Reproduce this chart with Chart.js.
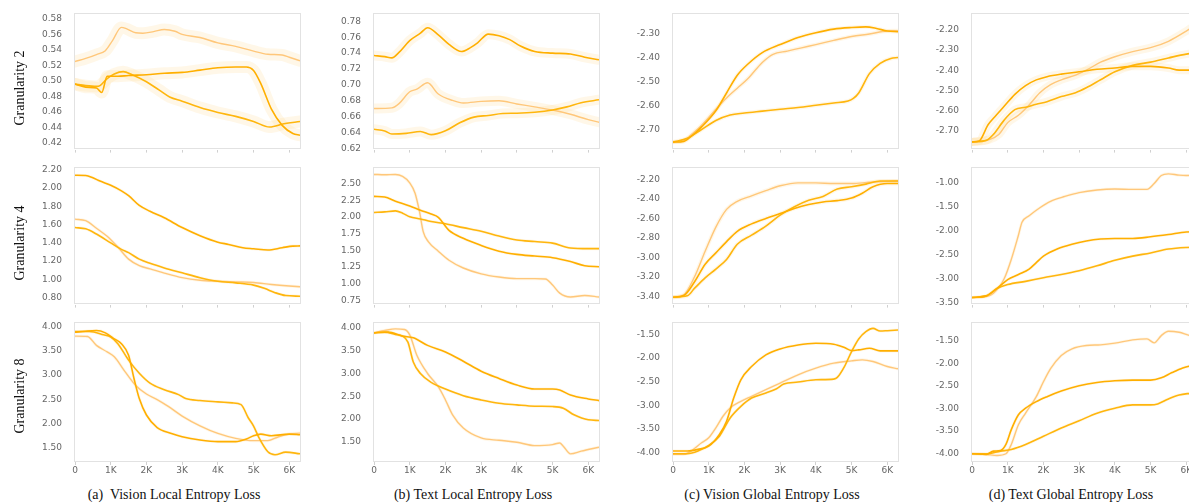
<!DOCTYPE html>
<html><head><meta charset="utf-8">
<script src="https://cdn.jsdelivr.net/npm/chart.js@4/dist/chart.umd.min.js"></script>
<style>
html,body{margin:0;padding:0;background:#fff;overflow:hidden;width:1189px;height:504px;}
.box{position:absolute;}
.cap{position:absolute;font-family:"Liberation Serif",serif;font-size:14px;line-height:14px;color:#111;white-space:pre;transform:translateX(-50%);}
.row{position:absolute;font-family:"Liberation Serif",serif;font-size:14px;line-height:14px;color:#111;white-space:pre;transform:translate(-50%,-50%) rotate(-90deg);}
</style></head><body>
<script>
// ---- data (x = training step, y = loss) ----
const xTickValues = [0,1000,2000,3000,4000,5000,6000];
const xTickLabels = ['0','1K','2K','3K','4K','5K','6K'];
const captions = ['(a)  Vision Local Entropy Loss','(b) Text Local Entropy Loss','(c) Vision Global Entropy Loss','(d) Text Global Entropy Loss'];
const rowLabels = ['Granularity 2','Granularity 4','Granularity 8'];

// Granularity 2
const a2L=[[0,0.525],[300,0.529],[600,0.534],[850,0.539],[1050,0.552],[1300,0.569],[1450,0.567],[1700,0.562],[1900,0.5615],[2200,0.5635],[2500,0.5663],[2800,0.564],[3000,0.560],[3500,0.556],[4000,0.549],[4500,0.5445],[5000,0.5384],[5400,0.5343],[5800,0.5335],[6000,0.5305],[6300,0.526]];
const a2A=[[0,0.496],[300,0.492],[600,0.491],[750,0.4852],[900,0.506],[1200,0.506],[1500,0.507],[2000,0.508],[2500,0.510],[3000,0.511],[3500,0.514],[4000,0.517],[4500,0.518],[4800,0.518],[5000,0.5135],[5200,0.4968],[5500,0.4636],[5800,0.4428],[6100,0.4324],[6300,0.430]];
const a2B=[[0,0.496],[300,0.494],[600,0.493],[700,0.494],[900,0.503],[1100,0.509],[1350,0.512],[1600,0.508],[2000,0.499],[2350,0.4885],[2650,0.4794],[3000,0.474],[3500,0.4657],[4000,0.4594],[4500,0.4544],[5000,0.4478],[5450,0.4407],[5850,0.4449],[6300,0.4478]];
const b2L=[[0,0.6703],[500,0.6711],[700,0.6764],[1000,0.6913],[1200,0.6945],[1500,0.7026],[1800,0.6885],[2200,0.6804],[2500,0.6772],[3000,0.6792],[3500,0.680],[4000,0.676],[4500,0.6723],[5000,0.6683],[5500,0.663],[6000,0.6562],[6300,0.653]];
const b2A=[[0,0.7369],[300,0.7356],[500,0.734],[700,0.7409],[1000,0.7558],[1300,0.7651],[1500,0.7719],[1800,0.763],[2100,0.751],[2450,0.742],[2700,0.7469],[2900,0.753],[3200,0.7639],[3500,0.7619],[3800,0.757],[4100,0.749],[4500,0.7421],[5000,0.740],[5500,0.7389],[5900,0.7348],[6300,0.7316]];
const b2B=[[0,0.6441],[300,0.642],[500,0.6381],[900,0.6389],[1300,0.6413],[1600,0.6373],[2000,0.6421],[2400,0.6522],[2800,0.6594],[3200,0.6615],[3600,0.6639],[4000,0.6643],[4500,0.6655],[5000,0.6683],[5400,0.6723],[5800,0.6776],[6300,0.6812]];
const c2L=[[0,-2.7527],[300,-2.748],[500,-2.723],[800,-2.682],[1200,-2.615],[1500,-2.5676],[1800,-2.527],[2100,-2.4865],[2500,-2.419],[2800,-2.385],[3200,-2.3716],[3600,-2.358],[4000,-2.3446],[4500,-2.327],[5000,-2.3108],[5500,-2.30],[6000,-2.2878],[6300,-2.2865]];
const c2A=[[0,-2.7527],[300,-2.75],[500,-2.73],[800,-2.689],[1200,-2.6216],[1500,-2.547],[1800,-2.473],[2100,-2.4257],[2500,-2.378],[3000,-2.3446],[3500,-2.3149],[4000,-2.2946],[4500,-2.2797],[5000,-2.273],[5400,-2.2703],[5700,-2.277],[6000,-2.2878],[6300,-2.2905]];
const c2B=[[0,-2.7527],[400,-2.7365],[800,-2.70],[1200,-2.662],[1600,-2.639],[2000,-2.631],[2500,-2.623],[3000,-2.615],[3500,-2.608],[4000,-2.5986],[4500,-2.589],[4900,-2.581],[5050,-2.570],[5200,-2.547],[5500,-2.466],[5800,-2.423],[6100,-2.4027],[6300,-2.3986]];
const d2L=[[0,-2.7577],[500,-2.745],[750,-2.721],[1000,-2.6615],[1300,-2.6247],[1600,-2.5734],[1900,-2.5125],[2200,-2.4724],[2500,-2.4484],[2900,-2.4244],[3200,-2.40],[3600,-2.3603],[4000,-2.333],[4500,-2.3074],[5000,-2.288],[5500,-2.256],[6000,-2.205],[6300,-2.17]];
const d2A=[[0,-2.7577],[200,-2.753],[450,-2.672],[600,-2.64],[900,-2.58],[1200,-2.5205],[1500,-2.477],[1800,-2.4484],[2100,-2.4324],[2500,-2.4196],[3000,-2.4083],[3500,-2.3955],[4000,-2.389],[4500,-2.381],[5000,-2.381],[5500,-2.389],[5800,-2.40],[6300,-2.40]];
const d2B=[[0,-2.7577],[400,-2.75],[600,-2.72],[900,-2.649],[1200,-2.597],[1500,-2.5846],[1800,-2.57],[2100,-2.557],[2500,-2.5317],[2900,-2.5125],[3200,-2.488],[3600,-2.448],[4000,-2.408],[4500,-2.376],[5000,-2.360],[5500,-2.339],[6000,-2.32],[6300,-2.315]];

// Granularity 4
const a4L=[[0,1.658],[300,1.641],[600,1.559],[900,1.47],[1200,1.352],[1500,1.22],[1800,1.149],[2100,1.113],[2500,1.067],[3000,1.017],[3500,0.989],[4000,0.978],[4500,0.971],[5000,0.964],[5500,0.942],[6000,0.925],[6300,0.917]];
const a4A=[[0,2.139],[300,2.136],[500,2.111],[700,2.075],[1000,2.029],[1300,1.968],[1500,1.915],[1800,1.808],[2100,1.744],[2500,1.673],[3000,1.566],[3500,1.477],[4000,1.406],[4300,1.381],[4700,1.345],[5000,1.334],[5400,1.32],[5800,1.345],[6100,1.363],[6300,1.365]];
const a4B=[[0,1.566],[300,1.552],[600,1.495],[1000,1.398],[1300,1.327],[1500,1.291],[1800,1.22],[2100,1.174],[2500,1.124],[3000,1.07],[3500,1.017],[4000,0.978],[4500,0.96],[5000,0.935],[5300,0.9],[5600,0.853],[5900,0.821],[6300,0.814]];
const b4L=[[0,2.635],[300,2.630],[600,2.635],[800,2.606],[1000,2.51],[1150,2.355],[1270,2.09],[1380,1.777],[1520,1.632],[1800,1.488],[2100,1.353],[2500,1.237],[3000,1.15],[3500,1.102],[4000,1.078],[4500,1.078],[4800,1.073],[5000,0.982],[5200,0.861],[5500,0.803],[5900,0.827],[6300,0.803]];
const b4A=[[0,2.307],[300,2.297],[600,2.235],[1000,2.163],[1300,2.10],[1600,2.042],[1800,1.994],[2100,1.80],[2500,1.68],[3000,1.574],[3500,1.488],[4000,1.44],[4500,1.415],[5000,1.391],[5500,1.333],[5900,1.271],[6300,1.256]];
const b4B=[[0,2.066],[300,2.076],[600,2.09],[800,2.056],[1000,2.003],[1300,1.97],[1600,1.931],[2000,1.897],[2500,1.84],[3000,1.786],[3500,1.714],[4000,1.656],[4500,1.632],[5000,1.608],[5500,1.536],[6000,1.526],[6300,1.526]];
const c4L=[[0,-3.407],[300,-3.383],[600,-3.20],[900,-2.936],[1200,-2.687],[1500,-2.505],[1800,-2.422],[2200,-2.366],[2600,-2.313],[3000,-2.263],[3500,-2.233],[4000,-2.233],[4500,-2.24],[5000,-2.24],[5500,-2.227],[6000,-2.217],[6300,-2.213]];
const c4A=[[0,-3.407],[300,-3.39],[600,-3.251],[900,-3.069],[1200,-2.952],[1500,-2.836],[1800,-2.73],[2200,-2.654],[2600,-2.598],[3000,-2.548],[3400,-2.495],[3800,-2.455],[4200,-2.429],[4600,-2.415],[5000,-2.389],[5300,-2.339],[5600,-2.273],[6000,-2.24],[6300,-2.24]];
const c4B=[[0,-3.407],[400,-3.393],[600,-3.317],[900,-3.208],[1200,-3.118],[1500,-3.019],[1800,-2.863],[2200,-2.77],[2600,-2.677],[3000,-2.565],[3400,-2.478],[3800,-2.412],[4200,-2.372],[4600,-2.296],[5000,-2.273],[5400,-2.246],[5800,-2.213],[6300,-2.213]];
const d4L=[[0,-3.386],[300,-3.379],[600,-3.299],[900,-2.997],[1100,-2.595],[1300,-2.093],[1400,-1.824],[1600,-1.69],[1900,-1.523],[2200,-1.389],[2600,-1.288],[3000,-1.208],[3500,-1.154],[4000,-1.134],[4500,-1.141],[4900,-1.141],[5100,-1.02],[5300,-0.853],[5500,-0.819],[5800,-0.846],[6000,-0.853],[6300,-0.85]];
const d4A=[[0,-3.386],[400,-3.353],[700,-3.198],[1000,-3.017],[1300,-2.91],[1600,-2.796],[1800,-2.662],[2000,-2.528],[2400,-2.374],[2800,-2.28],[3200,-2.213],[3600,-2.173],[4000,-2.16],[4500,-2.16],[5000,-2.126],[5500,-2.079],[6000,-2.025],[6300,-2.02]];
const d4B=[[0,-3.386],[400,-3.353],[700,-3.198],[1000,-3.118],[1500,-3.051],[2000,-2.977],[2500,-2.91],[3000,-2.83],[3500,-2.729],[4000,-2.615],[4500,-2.528],[5000,-2.461],[5500,-2.381],[6000,-2.347],[6300,-2.34]];

// Granularity 8
const a8L=[[0,3.797],[350,3.79],[600,3.608],[900,3.473],[1100,3.372],[1400,3.068],[1700,2.784],[2000,2.608],[2300,2.493],[2600,2.358],[3000,2.155],[3500,1.953],[4000,1.797],[4500,1.696],[5000,1.649],[5400,1.649],[5700,1.73],[6000,1.784],[6300,1.804]];
const a8A=[[0,3.878],[300,3.899],[600,3.912],[850,3.865],[1100,3.743],[1300,3.642],[1500,3.405],[1650,2.932],[1800,2.514],[2000,2.176],[2300,1.919],[2700,1.797],[3000,1.73],[3500,1.662],[4000,1.628],[4500,1.628],[4800,1.682],[5000,1.75],[5200,1.784],[5500,1.75],[6000,1.784],[6300,1.77]];
const a8B=[[0,3.892],[400,3.892],[800,3.824],[1000,3.777],[1200,3.642],[1500,3.304],[1800,3.034],[2100,2.831],[2500,2.696],[2900,2.595],[3100,2.514],[3500,2.473],[4000,2.446],[4400,2.426],[4650,2.39],[4850,2.12],[5000,1.95],[5150,1.71],[5400,1.42],[5600,1.36],[5900,1.412],[6300,1.378]];
const b8L=[[0,3.891],[300,3.942],[600,3.978],[850,3.964],[1000,3.848],[1200,3.399],[1500,3.0],[1800,2.71],[2000,2.42],[2200,2.094],[2500,1.804],[3000,1.587],[3500,1.536],[4000,1.493],[4500,1.42],[5000,1.442],[5200,1.478],[5300,1.406],[5500,1.239],[5800,1.297],[6300,1.384]];
const b8A=[[0,3.891],[400,3.906],[800,3.819],[1100,3.783],[1500,3.616],[2000,3.471],[2500,3.268],[3000,3.051],[3500,2.891],[4000,2.746],[4500,2.659],[5000,2.659],[5200,2.638],[5500,2.529],[6000,2.442],[6300,2.406]];
const b8B=[[0,3.891],[300,3.906],[600,3.855],[800,3.819],[950,3.688],[1100,3.254],[1300,3.0],[1600,2.804],[2000,2.659],[2500,2.514],[3000,2.42],[3500,2.348],[4000,2.312],[4500,2.283],[5000,2.275],[5300,2.239],[5600,2.094],[6000,1.985],[6300,1.971]];
const c8L=[[0,-4.035],[300,-4.035],[500,-3.965],[800,-3.79],[1000,-3.685],[1200,-3.475],[1400,-3.23],[1600,-3.055],[1900,-2.915],[2200,-2.81],[2600,-2.67],[3000,-2.529],[3500,-2.354],[4000,-2.214],[4500,-2.109],[5000,-2.06],[5300,-2.039],[5600,-2.074],[6000,-2.179],[6300,-2.228]];
const c8A=[[0,-3.965],[400,-3.965],[700,-3.93],[1000,-3.86],[1300,-3.615],[1500,-3.335],[1700,-2.845],[1900,-2.46],[2200,-2.18],[2600,-1.934],[3000,-1.808],[3500,-1.724],[4000,-1.689],[4500,-1.71],[4800,-1.78],[5000,-1.843],[5200,-1.829],[5500,-1.794],[5800,-1.85],[6300,-1.85]];
const c8B=[[0,-4.021],[400,-4.021],[700,-3.965],[1000,-3.846],[1300,-3.65],[1600,-3.265],[1900,-3.02],[2200,-2.845],[2600,-2.74],[2900,-2.649],[3100,-2.55],[3500,-2.508],[4000,-2.459],[4500,-2.445],[4600,-2.41],[4800,-2.18],[5000,-1.864],[5200,-1.598],[5400,-1.444],[5600,-1.374],[5800,-1.43],[6000,-1.423],[6300,-1.409]];
const d8L=[[0,-4.007],[400,-4.022],[700,-4.044],[950,-4.007],[1100,-3.80],[1300,-3.362],[1500,-3.106],[1800,-2.739],[2000,-2.409],[2200,-2.116],[2500,-1.823],[2800,-1.676],[3200,-1.603],[3600,-1.588],[4000,-1.551],[4500,-1.478],[4900,-1.456],[5100,-1.544],[5300,-1.383],[5500,-1.287],[5800,-1.31],[6100,-1.383],[6300,-1.40]];
const d8A=[[0,-4.007],[400,-4.022],[600,-3.949],[800,-3.934],[950,-3.80],[1100,-3.472],[1300,-3.142],[1500,-2.996],[1800,-2.849],[2100,-2.739],[2500,-2.614],[3000,-2.497],[3500,-2.424],[4000,-2.387],[4500,-2.372],[5000,-2.372],[5300,-2.321],[5600,-2.204],[5900,-2.101],[6100,-2.057],[6300,-2.03]];
const d8B=[[0,-4.007],[400,-4.007],[800,-3.949],[1100,-3.912],[1500,-3.802],[2000,-3.619],[2500,-3.435],[3000,-3.274],[3500,-3.106],[4000,-2.996],[4500,-2.922],[5000,-2.922],[5200,-2.90],[5500,-2.79],[5800,-2.702],[6100,-2.666],[6300,-2.65]];

// y-axis ranges per panel
const panels = [
 {r:0,c:0,min:0.4116,max:0.587,step:0.02,halo:12,lines:[a2L,a2A,a2B]},
 {r:0,c:1,min:0.6185,max:0.790,step:0.02,halo:10,lines:[b2L,b2A,b2B]},
 {r:0,c:2,min:-2.784,max:-2.214,step:0.1,halo:4,lines:[c2L,c2A,c2B]},
 {r:0,c:3,min:-2.796,max:-2.117,step:0.1,halo:8,lines:[d2L,d2A,d2B]},
 {r:1,c:0,min:0.722,max:2.225,step:0.2,halo:3,lines:[a4L,a4A,a4B]},
 {r:1,c:1,min:0.69,max:2.74,step:0.25,halo:3,lines:[b4L,b4A,b4B]},
 {r:1,c:2,min:-3.483,max:-2.074,step:0.2,halo:4,lines:[c4L,c4A,c4B]},
 {r:1,c:3,min:-3.534,max:-0.685,step:0.5,halo:3,lines:[d4L,d4A,d4B]},
 {r:2,c:0,min:1.21,max:4.08,step:0.5,halo:3,lines:[a8L,a8A,a8B]},
 {r:2,c:1,min:1.06,max:4.12,step:0.5,halo:3,lines:[b8L,b8A,b8B]},
 {r:2,c:2,min:-4.196,max:-1.248,step:0.5,halo:3,lines:[c8L,c8A,c8B]},
 {r:2,c:3,min:-4.19,max:-1.09,step:0.5,halo:3,lines:[d8L,d8A,d8B]}
];

// ---- layout / style ----
const colLeft=[75,374,673,972], rowTop=[11,165,320], rowH=[141,142,142];
const PW=225, YW=50, PT=8, PR=8, PB=4;
const COLORS=['#FFC77A','#FFAF00','#FFB60D'];
const WIDTHS=[1.4,1.6,1.6];
const HALO='rgba(255,210,130,0.18)';

const frame = {id:'frame', beforeDatasetsDraw(ch){const a=ch.chartArea,x=ch.ctx;x.save();x.strokeStyle='#e2e2e2';x.lineWidth=1;x.strokeRect(Math.round(a.left)-0.5,Math.round(a.top)+0.5,Math.round(a.right-a.left)+1,Math.round(a.bottom-a.top)-1);x.restore();}};

panels.forEach(p=>{
  const xH = p.r===2 ? 20 : 4;
  const W = YW+PW+PR, H = PT+rowH[p.r]+xH+PB;
  const box=document.createElement('div'); box.className='box';
  box.style.left=(colLeft[p.c]-YW)+'px'; box.style.top=(rowTop[p.r]-PT)+'px';
  box.style.width=W+'px'; box.style.height=H+'px';
  const cv=document.createElement('canvas'); cv.width=W; cv.height=H; cv.style.width=W+'px'; cv.style.height=H+'px';
  box.appendChild(cv); document.body.appendChild(box);
  const ds=[];
  p.lines.forEach((d,i)=>ds.push({data:d,borderColor:HALO,borderWidth:p.halo,pointRadius:0,cubicInterpolationMode:'monotone',order:5,borderCapStyle:'round'}));
  p.lines.forEach((d,i)=>ds.push({data:d,borderColor:COLORS[i],borderWidth:WIDTHS[i],pointRadius:0,cubicInterpolationMode:'monotone',order:i===0?2:1}));
  new Chart(cv,{type:'line',data:{datasets:ds},plugins:[frame],
    options:{responsive:false,animation:false,events:[],parsing:true,
      layout:{padding:{top:PT,right:PR,bottom:PB,left:0}},
      plugins:{legend:{display:false},tooltip:{enabled:false}},
      scales:{
        x:{type:'linear',min:0,max:6300,
          afterFit:s=>{s.height=xH;},
          afterBuildTicks:s=>{s.ticks=xTickValues.map(v=>({value:v}));},
          border:{display:false},
          grid:{display:true,drawOnChartArea:false,drawTicks:true,tickLength:3,color:'#d0d0d0'},
          ticks:{display:p.r===2,padding:0,color:'#666',font:{family:'DejaVu Sans',size:9},maxRotation:0,autoSkip:false,
            callback:(v)=>{const k=xTickValues.indexOf(v);return k>=0?xTickLabels[k]:'';}}},
        y:{type:'linear',min:p.min,max:p.max,
          afterFit:s=>{s.width=YW;},
          border:{display:false},
          grid:{display:false},
          ticks:{stepSize:p.step,includeBounds:false,autoSkip:false,padding:5,color:'#666',font:{family:'DejaVu Sans',size:9},
            callback:v=>v.toFixed(2)}}
      }}});
});

captions.forEach((t,i)=>{const d=document.createElement('div');d.className='cap';d.textContent=t;
  d.style.left=([174,473,772,1071][i])+'px';d.style.top='488px';document.body.appendChild(d);});
rowLabels.forEach((t,i)=>{const d=document.createElement('div');d.className='row';d.textContent=t;
  d.style.left='20px';d.style.top=([88,243,396][i])+'px';document.body.appendChild(d);});
</script>
</body></html>
